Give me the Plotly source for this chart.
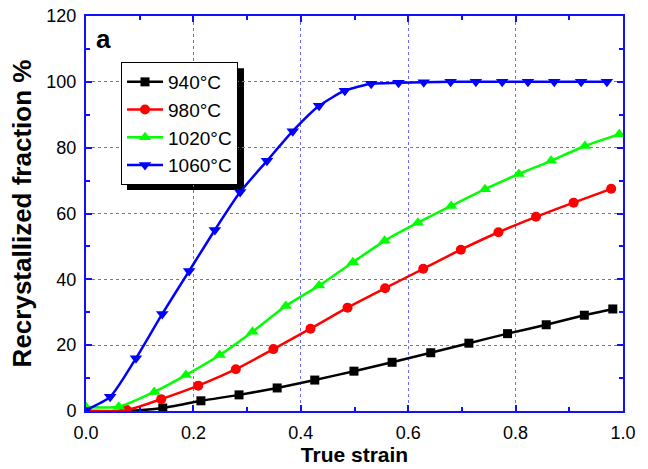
import plotly.graph_objects as go

# ---- data ----
x_940 = [0.0, 0.071, 0.143, 0.214, 0.285, 0.356, 0.426, 0.499, 0.570, 0.642, 0.713, 0.785, 0.857, 0.928, 0.981]
y_940 = [0.0, 0.0, 0.9, 3.1, 4.9, 7.0, 9.4, 12.1, 14.8, 17.7, 20.6, 23.5, 26.2, 29.1, 31.0]

x_980 = [0.0, 0.076, 0.140, 0.209, 0.279, 0.349, 0.418, 0.487, 0.557, 0.628, 0.698, 0.768, 0.838, 0.908, 0.978]
y_980 = [0.0, 0.3, 3.6, 7.7, 12.7, 18.8, 25.0, 31.4, 37.3, 43.2, 49.0, 54.3, 59.0, 63.3, 67.5]

x_1020 = [0.0, 0.061, 0.127, 0.186, 0.249, 0.310, 0.372, 0.434, 0.497, 0.556, 0.618, 0.680, 0.743, 0.806, 0.866, 0.929, 0.993]
y_1020 = [1.2, 1.3, 5.8, 10.9, 17.0, 24.1, 31.9, 38.1, 45.2, 51.7, 57.2, 62.3, 67.4, 72.0, 76.0, 80.5, 84.1]

x_1060 = [0.0, 0.045, 0.093, 0.142, 0.192, 0.240, 0.287, 0.337, 0.385, 0.434, 0.482, 0.531, 0.582,
          0.629, 0.679, 0.726, 0.775, 0.823, 0.872, 0.922, 0.970]
y_1060 = [0.3, 4.3, 16.0, 29.5, 42.5, 55.0, 66.5, 76.0, 85.0, 92.7, 97.3, 99.4, 99.7,
          99.9, 100.0, 100.0, 100.0, 100.0, 100.0, 100.0, 100.0]

labels = ["940°C", "980°C", "1020°C", "1060°C"]
x_ticks = [0.0, 0.2, 0.4, 0.6, 0.8, 1.0]
x_tick_text = ["0.0", "0.2", "0.4", "0.6", "0.8", "1.0"]
y_ticks = [0, 20, 40, 60, 80, 100, 120]

FONT = "Arial, Liberation Sans, sans-serif"
AX = "#1010ff"

series = [
    (x_940, y_940, labels[0], "#000000", "square", 9),
    (x_980, y_980, labels[1], "#ff0000", "circle", 10),
    (x_1020, y_1020, labels[2], "#00ff00", "triangle-up", 11),
    (x_1060, y_1060, labels[3], "#0000ff", "triangle-down", 11),
]

fig = go.Figure()
for xs, ys, name, col, sym, sz in series:
    fig.add_trace(go.Scatter(
        x=xs, y=ys, name=name, mode="lines+markers",
        line=dict(color=col, width=2.5, shape="spline", smoothing=0.6),
        marker=dict(symbol=sym, size=sz, color=col),
    ))

axis_common = dict(
    showline=True, linecolor=AX, linewidth=2, mirror="ticks",
    ticks="inside", tickcolor=AX, ticklen=6, tickwidth=1.5,
    showgrid=True, gridcolor="#6a6aff", griddash="dot", gridwidth=1,
    zeroline=False, tickfont=dict(family=FONT, size=18, color="black"),
    automargin=False,
)

fig.update_xaxes(
    range=[0, 1.0], tickvals=x_ticks, ticktext=x_tick_text,
    minor=dict(ticks="inside", tickcolor=AX, ticklen=4, dtick=0.1, showgrid=False),
    title=dict(text="<b>True strain</b>", font=dict(family=FONT, size=21, color="black"), standoff=6),
    ticklabelstandoff=4,
    **axis_common,
)
fig.update_yaxes(
    range=[0, 120], tickvals=y_ticks,
    minor=dict(ticks="inside", tickcolor=AX, ticklen=4, dtick=10, showgrid=False),
    title=dict(text="<b>Recrystallized fraction %</b>", font=dict(family=FONT, size=26, color="black"), standoff=7),
    ticklabelstandoff=4,
    **axis_common,
)

fig.add_annotation(text="<b>a</b>", x=0.015, y=0.985, xref="paper", yref="paper",
                   xanchor="left", yanchor="top", showarrow=False,
                   font=dict(family=FONT, size=26, color="black"))

# legend shadow
fig.add_shape(type="rect", xref="paper", yref="paper",
              x0=0.0763, x1=0.2942, y0=0.5595, y1=0.868,
              fillcolor="black", line=dict(width=0), layer="below")

fig.update_layout(
    width=648, height=469,
    margin=dict(l=86, r=25, t=16, b=58),
    paper_bgcolor="white", plot_bgcolor="white",
    showlegend=True,
    legend=dict(x=0.0652, y=0.8835, xanchor="left", yanchor="top",
                bgcolor="white", bordercolor="black", borderwidth=1,
                font=dict(family=FONT, size=19, color="black"),
                tracegroupgap=0, itemwidth=36),
)

fig.write_html("out.html", config={"displayModeBar": False},
               post_script="document.body.style.margin='0';")
